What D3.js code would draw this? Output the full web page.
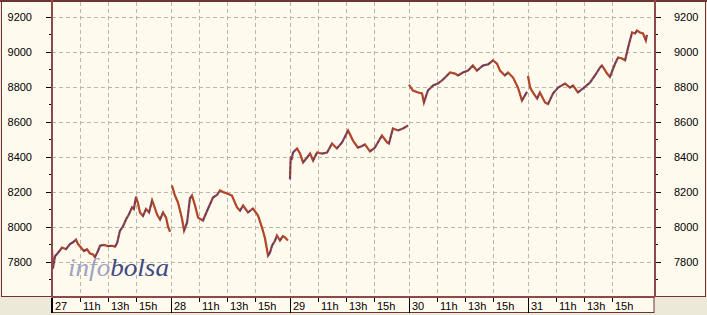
<!DOCTYPE html>
<html>
<head>
<meta charset="utf-8">
<title>Infobolsa intradía</title>
<script src="https://d3js.org/d3.v7.min.js"></script>
<style>
  body { margin: 0; background: #ece9d8; }
  svg { display: block; }
  text { font-family: "Liberation Sans", Arial, sans-serif; font-size: 11px; fill: #000; }
</style>
</head>
<body>
<div id="chart"></div>
<script>
// dias de la sesion y marcas horarias (minutos desde las 9:00, sesion de 510 min)
let dayLabels = ["27", "28", "29", "30", "31"];
let hourLabels = ["11h", "13h", "15h"];
let hourMinutes = [120, 240, 360];
let sessionLength = 510;
let yTicks = [7800, 8000, 8200, 8400, 8600, 8800, 9000, 9200];
let yMinor = [7700, 7900, 8100, 8300, 8500, 8700, 8900, 9100];

// cotizaciones: [minuto, valor]
let day27 = [[0,7870],[4,7760],[13,7830],[26,7850],[43,7880],[60,7870],[77,7900],[90,7910],[103,7925],[111,7900],
  [124,7880],[137,7860],[150,7870],[163,7846],[176,7840],[184,7825],[197,7860],[206,7890],[223,7895],[240,7888],
  [257,7890],[270,7885],[279,7905],[291,7975],[304,8000],[317,8040],[330,8070],[343,8110],[351,8100],[360,8170],
  [369,8130],[377,8080],[390,8060],[403,8100],[416,8080],[429,8150],[437,8120],[450,8070],[463,8040],[476,8080],
  [489,8050],[497,8000],[506,7970]];
let day28 = [[4,8234],[17,8177],[30,8137],[47,8046],[56,7977],[69,8023],[81,8160],[90,8177],[103,8120],[116,8051],
  [137,8034],[159,8103],[180,8166],[197,8180],[210,8206],[227,8195],[240,8189],[261,8177],[283,8109],[296,8090],
  [309,8120],[330,8080],[351,8103],[373,8063],[390,7994],[403,7931],[416,7834],[424,7850],[433,7891],[446,7920],
  [454,7949],[467,7920],[480,7945],[489,7937],[501,7920]];
let day29 = [[0,8270],[3,8400],[6,8380],[13,8423],[30,8446],[43,8417],[56,8366],[73,8394],[86,8417],[99,8377],
  [116,8423],[137,8417],[159,8423],[180,8474],[201,8446],[223,8480],[249,8549],[270,8491],[291,8451],[309,8460],
  [321,8469],[343,8429],[364,8451],[394,8520],[416,8480],[424,8474],[441,8560],[463,8549],[484,8560],[506,8577]];
let day30 = [[0,8810],[17,8777],[39,8766],[56,8760],[64,8709],[81,8777],[103,8806],[124,8817],[146,8840],[176,8880],
  [197,8874],[210,8863],[231,8880],[253,8891],[274,8920],[291,8891],[317,8920],[339,8926],[360,8949],[377,8931],
  [390,8891],[411,8863],[424,8880],[446,8851],[467,8794],[484,8720],[497,8749],[506,8770]];
let day31 = [[0,8860],[9,8794],[21,8766],[39,8731],[51,8766],[73,8709],[86,8700],[107,8760],[129,8794],[159,8817],
  [180,8794],[193,8806],[214,8766],[236,8789],[266,8823],[287,8863],[309,8909],[317,8920],[339,8874],[351,8855],
  [373,8930],[386,8966],[403,8960],[416,8950],[429,9023],[446,9109],[459,9103],[467,9120],[480,9109],[493,9103],
  [505,9063],[510,9095]];
let days = [day27, day28, day29, day30, day31];

let width = 707, height = 315;
let plot = {left: 52, right: 655, top: 1, bottom: 297};

let svg = d3.select("#chart").append("svg")
    .attr("width", width)
    .attr("height", height);

let x = d3.scaleLinear()
    .domain([0, dayLabels.length * sessionLength])
    .range([52, 647]);
let y = d3.scaleLinear()
    .domain([7800, 9200])
    .range([261.5, 16.5]);

let cream = "#fffaee";
let frame = "#6e3434";
let axisCol = "#8e4a4a";

// paneles laterales
svg.append("rect").attr("x", 1.5).attr("y", 1.5).attr("width", plot.left - 1.5).attr("height", plot.bottom - 2)
    .attr("fill", cream).attr("stroke", frame);
svg.append("rect").attr("x", plot.right).attr("y", 1.5).attr("width", width - 1.5 - plot.right).attr("height", plot.bottom - 2)
    .attr("fill", cream).attr("stroke", frame);
// area del grafico
svg.append("rect").attr("x", plot.left).attr("y", plot.top).attr("width", plot.right - plot.left).attr("height", plot.bottom - plot.top)
    .attr("fill", cream);
svg.append("line").attr("x1", 0).attr("x2", width).attr("y1", 1).attr("y2", 1).attr("stroke", frame).attr("stroke-width", 2);

// rejilla
let gridCol = "#bcb6aa";
svg.append("g").selectAll("line").data(yTicks).join("line")
    .attr("x1", plot.left).attr("x2", plot.right)
    .attr("y1", d => Math.round(y(d)) + 0.5).attr("y2", d => Math.round(y(d)) + 0.5)
    .attr("stroke", gridCol).attr("stroke-dasharray", "4,3");

let vGrid = [];
dayLabels.forEach((d, i) => {
    if (i > 0) vGrid.push(i * sessionLength);
    hourMinutes.forEach(h => vGrid.push(i * sessionLength + h));
});
svg.append("g").selectAll("line").data(vGrid).join("line")
    .attr("x1", d => Math.round(x(d)) + 0.5).attr("x2", d => Math.round(x(d)) + 0.5)
    .attr("y1", plot.top + 1).attr("y2", plot.bottom)
    .attr("stroke", gridCol).attr("stroke-dasharray", "4,3");

// marca de agua
let wm = svg.append("text")
    .attr("x", 68).attr("y", 276)
    .attr("textLength", 101).attr("lengthAdjust", "spacingAndGlyphs")
    .style("font-family", "'Liberation Serif', 'DejaVu Serif', serif")
    .style("font-style", "italic")
    .style("font-size", "26px");
wm.append("tspan").text("info").style("fill", "#9ea3c0");
wm.append("tspan").text("bolsa").style("fill", "#3e4a82");

// serie: tramos coloreados segun suba o baje
let up = "#4a3f8e", down = "#c24a22";
days.forEach((pts, i) => {
    svg.append("path")
        .datum(pts)
        .attr("fill", "none")
        .attr("stroke", "#a8442c")
        .attr("stroke-width", 2.2)
        .attr("d", d3.line().x(d => x(i * sessionLength + d[0])).y(d => y(d[1])));
    let segs = d3.pairs(pts);
    svg.append("g").selectAll("line").data(segs).join("line")
        .attr("x1", d => x(i * sessionLength + d[0][0])).attr("y1", d => y(d[0][1]))
        .attr("x2", d => x(i * sessionLength + d[1][0])).attr("y2", d => y(d[1][1]))
        .attr("stroke", d => d[1][1] >= d[0][1] ? up : down)
        .attr("stroke-width", 1.3)
        .attr("stroke-dasharray", "3,2");
});

// ejes verticales
let left = svg.append("g");
left.selectAll("line.maj").data(yTicks).join("line")
    .attr("x1", plot.left - 6).attr("x2", plot.left)
    .attr("y1", d => Math.round(y(d)) + 0.5).attr("y2", d => Math.round(y(d)) + 0.5)
    .attr("stroke", "#000");
left.selectAll("line.min").data(yMinor).join("line")
    .attr("x1", plot.left - 3).attr("x2", plot.left)
    .attr("y1", d => Math.round(y(d)) + 0.5).attr("y2", d => Math.round(y(d)) + 0.5)
    .attr("stroke", "#000");
left.selectAll("text").data(yTicks).join("text")
    .attr("x", 32).attr("y", d => y(d) + 4)
    .attr("text-anchor", "end")
    .text(d => d);

let right = svg.append("g");
right.selectAll("line.maj").data(yTicks).join("line")
    .attr("x1", plot.right).attr("x2", plot.right + 6)
    .attr("y1", d => Math.round(y(d)) + 0.5).attr("y2", d => Math.round(y(d)) + 0.5)
    .attr("stroke", "#000");
right.selectAll("line.min").data(yMinor).join("line")
    .attr("x1", plot.right).attr("x2", plot.right + 3)
    .attr("y1", d => Math.round(y(d)) + 0.5).attr("y2", d => Math.round(y(d)) + 0.5)
    .attr("stroke", "#000");
right.selectAll("text").data(yTicks).join("text")
    .attr("x", 674).attr("y", d => y(d) + 4)
    .text(d => d);

svg.append("line").attr("x1", plot.left).attr("x2", plot.left).attr("y1", 0).attr("y2", plot.bottom)
    .attr("stroke", axisCol).attr("stroke-width", 2);
svg.append("line").attr("x1", plot.right).attr("x2", plot.right).attr("y1", 0).attr("y2", plot.bottom)
    .attr("stroke", axisCol).attr("stroke-width", 2);

// eje temporal
let axisBox = svg.append("g");
axisBox.append("rect").attr("x", plot.left).attr("y", 297.5).attr("width", 654 - plot.left).attr("height", 15)
    .attr("fill", cream).attr("stroke", frame);
axisBox.append("line").attr("x1", plot.left).attr("x2", 655).attr("y1", 297).attr("y2", 297)
    .attr("stroke", axisCol).attr("stroke-width", 2);

axisBox.selectAll("line.day").data(dayLabels).join("line")
    .attr("x1", (d, i) => Math.round(x(i * sessionLength)) + (i === 0 ? 0 : 0.5))
    .attr("x2", (d, i) => Math.round(x(i * sessionLength)) + (i === 0 ? 0 : 0.5))
    .attr("y1", 298).attr("y2", 313)
    .attr("stroke", "#000").attr("stroke-width", (d, i) => i === 0 ? 2 : 1);
axisBox.selectAll("text.day").data(dayLabels).join("text")
    .attr("x", (d, i) => x(i * sessionLength) + 3).attr("y", 310)
    .text(d => d);

let hourTicks = [];
dayLabels.forEach((d, i) => hourMinutes.forEach((h, j) => hourTicks.push({m: i * sessionLength + h, label: hourLabels[j]})));
axisBox.selectAll("line.hour").data(hourTicks).join("line")
    .attr("x1", d => Math.round(x(d.m)) + 0.5).attr("x2", d => Math.round(x(d.m)) + 0.5)
    .attr("y1", 298).attr("y2", 302)
    .attr("stroke", "#000");
axisBox.selectAll("text.hour").data(hourTicks).join("text")
    .attr("x", d => x(d.m) + 3).attr("y", 310)
    .text(d => d.label);
</script>
</body>
</html>
